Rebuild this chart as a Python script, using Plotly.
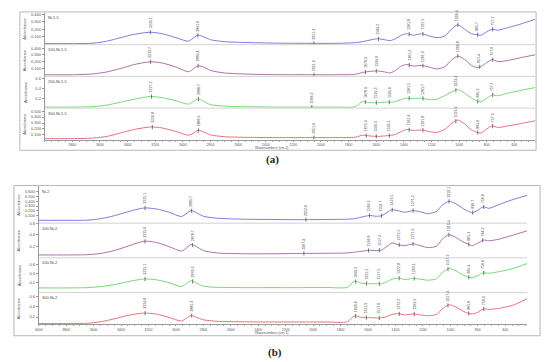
import numpy as np
import plotly.graph_objects as go

# ---------------- data ----------------
WAVENUMBER = [4000, 3800, 3650, 3550, 3450, 3350, 3235, 3150, 3050, 2960, 2920, 2890, 2850, 2800,
              2700, 2500, 2300, 2100, 1900, 1750, 1700, 1650, 1590, 1540, 1500, 1460, 1425, 1380,
              1330, 1270, 1220, 1160, 1100, 1060, 1010, 960, 910, 870, 840, 800, 760, 720, 650, 550, 440]

A_NI15 = [0.007, 0.007, 0.013, 0.040, 0.087, 0.133, 0.160, 0.140, 0.087, 0.040, 0.087, 0.120, 0.100, 0.060,
          0.033, 0.020, 0.013, 0.011, 0.011, 0.020, 0.033, 0.053, 0.073, 0.060, 0.047, 0.073, 0.113, 0.140,
          0.120, 0.140, 0.113, 0.087, 0.113, 0.193, 0.260, 0.200, 0.140, 0.127, 0.120, 0.167, 0.200, 0.187,
          0.220, 0.273, 0.340]
A_100_NI15 = [0.003, 0.003, 0.015, 0.045, 0.097, 0.157, 0.197, 0.179, 0.119, 0.048, 0.097, 0.137, 0.119, 0.067,
              0.030, 0.010, 0.004, 0.003, 0.003, 0.010, 0.037, 0.052, 0.060, 0.045, 0.030, 0.067, 0.127, 0.157,
              0.134, 0.142, 0.119, 0.090, 0.127, 0.216, 0.284, 0.231, 0.142, 0.112, 0.127, 0.187, 0.231, 0.201,
              0.216, 0.261, 0.306]
A_200_NI15 = [0.039, 0.039, 0.049, 0.078, 0.136, 0.194, 0.247, 0.223, 0.165, 0.097, 0.155, 0.200, 0.155, 0.087,
              0.058, 0.045, 0.039, 0.039, 0.039, 0.049, 0.146, 0.126, 0.126, 0.136, 0.136, 0.146, 0.184, 0.214,
              0.204, 0.214, 0.184, 0.194, 0.272, 0.330, 0.383, 0.311, 0.214, 0.155, 0.146, 0.214, 0.278, 0.262,
              0.311, 0.369, 0.427]
A_300_NI15 = [0.038, 0.038, 0.047, 0.075, 0.133, 0.192, 0.233, 0.217, 0.158, 0.095, 0.133, 0.178, 0.150, 0.100,
              0.070, 0.058, 0.055, 0.055, 0.055, 0.062, 0.095, 0.083, 0.075, 0.083, 0.092, 0.108, 0.150, 0.192,
              0.175, 0.183, 0.158, 0.142, 0.200, 0.283, 0.350, 0.283, 0.183, 0.142, 0.133, 0.200, 0.250, 0.225,
              0.250, 0.292, 0.342]

B_NI2 = [0.000, 0.000, 0.002, 0.033, 0.096, 0.179, 0.258, 0.242, 0.169, 0.079, 0.148, 0.204, 0.158, 0.085,
         0.044, 0.023, 0.017, 0.013, 0.017, 0.023, 0.033, 0.065, 0.100, 0.085, 0.096, 0.169, 0.221, 0.200,
         0.169, 0.204, 0.179, 0.138, 0.190, 0.315, 0.398, 0.346, 0.252, 0.190, 0.158, 0.210, 0.283, 0.252,
         0.325, 0.429, 0.523]
B_100_NI2 = [0.058, 0.058, 0.062, 0.083, 0.133, 0.208, 0.292, 0.275, 0.200, 0.125, 0.183, 0.237, 0.200, 0.133,
             0.092, 0.078, 0.078, 0.083, 0.087, 0.092, 0.105, 0.120, 0.137, 0.133, 0.142, 0.208, 0.263, 0.233,
             0.217, 0.247, 0.217, 0.183, 0.208, 0.325, 0.403, 0.358, 0.283, 0.242, 0.217, 0.258, 0.313, 0.300,
             0.325, 0.392, 0.470]
B_200_NI2 = [0.071, 0.071, 0.078, 0.100, 0.144, 0.211, 0.271, 0.256, 0.189, 0.100, 0.178, 0.233, 0.178, 0.111,
             0.084, 0.078, 0.078, 0.078, 0.082, 0.084, 0.222, 0.178, 0.167, 0.162, 0.167, 0.211, 0.267, 0.293,
             0.260, 0.284, 0.267, 0.244, 0.278, 0.411, 0.507, 0.456, 0.367, 0.311, 0.300, 0.344, 0.411, 0.400,
             0.433, 0.500, 0.618]
B_300_NI2 = [0.072, 0.072, 0.078, 0.107, 0.165, 0.233, 0.278, 0.262, 0.194, 0.122, 0.184, 0.233, 0.194, 0.146,
             0.117, 0.107, 0.103, 0.103, 0.103, 0.107, 0.223, 0.194, 0.188, 0.184, 0.184, 0.214, 0.252, 0.266,
             0.243, 0.262, 0.243, 0.227, 0.252, 0.359, 0.441, 0.398, 0.320, 0.272, 0.262, 0.291, 0.359, 0.350,
             0.369, 0.427, 0.557]

SAMPLE_NAMES_A = ["Ni-1.5", "100-Ni-1.5", "200-Ni-1.5", "300-Ni-1.5"]
SAMPLE_NAMES_B = ["Ni-2", "100-Ni-2", "200-Ni-2", "300-Ni-2"]

PEAKS_A_NI15 = [3235.1, 2891.6, 2051.3, 1584.2, 1361.8, 1261.5, 1009.4, 865.7, 757.2]
PEAKS_A_100_NI15 = [3233.7, 2889.4, 2051.0, 1678.3, 1599.6, 1361.2, 1261.9, 1009.8, 851.4, 757.6]
PEAKS_A_200_NI15 = [3227.2, 2886.7, 2066.2, 1678.9, 1599.3, 1505.6, 1361.5, 1261.7, 1023.4, 865.3, 757.1]
PEAKS_A_300_NI15 = [3220.8, 2886.9, 2051.6, 1672.4, 1599.9, 1505.1, 1361.6, 1261.8, 1023.9, 865.6, 757.5]

PEAKS_B_NI2 = [3225.1, 2885.7, 2052.6, 1589.3, 1502.7, 1423.5, 1271.2, 1010.1, 836.7, 756.8]
PEAKS_B_100_NI2 = [3225.6, 2878.7, 2067.4, 1596.8, 1517.3, 1372.5, 1271.9, 1010.4, 865.3, 764.2]
PEAKS_B_200_NI2 = [3225.1, 2878.3, 1690.3, 1611.2, 1517.5, 1372.8, 1263.1, 1017.2, 865.4, 756.6]
PEAKS_B_300_NI2 = [3224.8, 2885.3, 1690.6, 1611.9, 1517.6, 1372.2, 1263.5, 1017.4, 865.8, 756.3]

X_TICKS_A = [3800, 3600, 3400, 3200, 3000, 2800, 2600, 2400, 2200, 2000, 1800, 1600, 1400, 1200, 1000, 800, 600]
X_TICKS_B = [4000, 3800, 3600, 3400, 3200, 3000, 2800, 2600, 2400, 2200, 2000, 1800, 1600, 1400, 1200, 1000, 800, 600]

# ---------------- layout helpers ----------------
W, H = 550, 362
def px(x):
    return x / W
def py(y):
    return 1 - y / H

COLORS = ["rgb(125,125,225)", "rgb(170,115,170)", "rgb(120,215,120)", "rgb(230,115,125)"]
SMALL = "Liberation Sans"

panels = [
    dict(series=[A_NI15, A_100_NI15, A_200_NI15, A_300_NI15],
         peaks=[PEAKS_A_NI15, PEAKS_A_100_NI15, PEAKS_A_200_NI15, PEAKS_A_300_NI15],
         names=SAMPLE_NAMES_A,
         rows=[(10, 42), (42, 74), (74, 106), (106, 138)],
         yranges=[[-0.007, 0.42], [-0.022, 0.455], [0.019, 0.641], [0.017, 0.55]],
         yticks=[[0.1, 0.2, 0.3, 0.4], [0.1, 0.2, 0.3, 0.4], [0.2, 0.4, 0.6], [0.1, 0.2, 0.3, 0.4, 0.5]],
         ytext=[["0.100", "0.200", "0.300", "0.400"], ["0.100", "0.200", "0.300", "0.400"],
                ["0.2", "0.4", "0.6"], ["0.100", "0.200", "0.300", "0.400", "0.500"]],
         xdom=(41, 535), xrange=[4000, 450], xticks=X_TICKS_A,
         frame=(16, 9, 536, 148.5), ytitle_x=21, xtitle_y=146.2, label="(a)", label_pos=(270, 158)),
    dict(series=[B_NI2, B_100_NI2, B_200_NI2, B_300_NI2],
         peaks=[PEAKS_B_NI2, PEAKS_B_100_NI2, PEAKS_B_200_NI2, PEAKS_B_300_NI2],
         names=SAMPLE_NAMES_B,
         rows=[(185, 222), (222, 257), (257, 292), (292, 324)],
         yranges=[[-0.06, 0.71], [0.008, 0.601], [-0.033, 0.744], [0.058, 0.68]],
         yticks=[[0.1, 0.2, 0.3, 0.4, 0.5, 0.6], [0.2, 0.4, 0.6], [0.2, 0.4, 0.6], [0.2, 0.4, 0.6]],
         ytext=[["0.100", "0.200", "0.300", "0.400", "0.500", "0.600"], ["0.2", "0.4", "0.6"],
                ["0.2", "0.4", "0.6"], ["0.2", "0.4", "0.6"]],
         xdom=(35, 527), xrange=[4000, 440], xticks=X_TICKS_B,
         frame=(10, 184, 540, 335.5), ytitle_x=15, xtitle_y=332.6, label="(b)", label_pos=(273, 352)),
]

fig = go.Figure()
layout = dict(width=W, height=H, margin=dict(l=0, r=0, t=0, b=0), showlegend=False,
              paper_bgcolor="white", plot_bgcolor="white")
annotations = []
shapes = []

wn_arr = np.array(WAVENUMBER, dtype=float)
yi = 0
for pi, p in enumerate(panels):
    xname = "x" if pi == 0 else "x2"
    xkey = "xaxis" if pi == 0 else "xaxis2"
    bottom_y = None
    for si in range(4):
        yi += 1
        yname = "y" if yi == 1 else f"y{yi}"
        ykey = "yaxis" if yi == 1 else f"yaxis{yi}"
        top, bot = p["rows"][si]
        vals = p["series"][si]
        fig.add_trace(go.Scatter(x=WAVENUMBER, y=vals, mode="lines", xaxis=xname, yaxis=yname,
                                 line=dict(color=COLORS[si], width=1, shape="spline", smoothing=0.7),
                                 hoverinfo="skip"))
        pk = p["peaks"][si]
        pk_y = [float(np.interp(v, wn_arr[::-1], np.array(vals)[::-1])) for v in pk]
        fig.add_trace(go.Scatter(x=pk, y=pk_y, mode="markers", xaxis=xname, yaxis=yname,
                                 marker=dict(symbol="line-ns-open", size=3, color="#555",
                                             line=dict(width=0.8, color="#555")),
                                 hoverinfo="skip"))
        for v, yv in zip(pk, pk_y):
            annotations.append(dict(x=v, y=yv, xref=xname, yref=yname, text=f"{v:.1f}",
                                    textangle=-90, showarrow=False, xanchor="center", yanchor="bottom",
                                    yshift=2, font=dict(family=SMALL, size=3.6, color="#444")))
        layout[ykey] = dict(domain=[py(bot), py(top)], anchor=xname, range=p["yranges"][si],
                            tickvals=p["yticks"][si], ticktext=p["ytext"][si],
                            tickfont=dict(family=SMALL, size=4, color="#555"),
                            ticks="outside", ticklen=2, tickcolor="#999", showline=True,
                            linecolor="#9a9a9a", linewidth=1, showgrid=False, zeroline=False)
        bottom_y = yname
        annotations.append(dict(x=px(p["xdom"][0] + 1), y=py(top + 0.5), xref="paper", yref="paper",
                                text=p["names"][si], showarrow=False, xanchor="left", yanchor="top",
                                font=dict(family=SMALL, size=4, color="#444")))
        annotations.append(dict(x=px(p["ytitle_x"]), y=py((top + bot) / 2), xref="paper", yref="paper",
                                text="Absorbance", textangle=-90, showarrow=False,
                                xanchor="center", yanchor="middle",
                                font=dict(family=SMALL, size=4, color="#555")))
        if si > 0:
            shapes.append(dict(type="line", xref="paper", yref="paper", x0=px(p["xdom"][0]),
                               x1=px(p["xdom"][1]), y0=py(top), y1=py(top),
                               line=dict(color="#d2d2d2", width=1)))
    layout[xkey] = dict(domain=[px(p["xdom"][0]), px(p["xdom"][1])], anchor=bottom_y,
                        range=p["xrange"], tickvals=p["xticks"], ticktext=[str(t) for t in p["xticks"]],
                        tickfont=dict(family=SMALL, size=3.5, color="#555"), ticks="outside",
                        ticklen=1, tickcolor="#999", showline=True, linecolor="#9a9a9a", linewidth=1,
                        showgrid=False, zeroline=False,
                        minor=dict(ticks="outside", ticklen=1, dtick=50, tickcolor="#aaa"))
    fx0, fy0, fx1, fy1 = p["frame"]
    shapes.append(dict(type="rect", xref="paper", yref="paper", x0=px(fx0), x1=px(fx1),
                       y0=py(fy1), y1=py(fy0), line=dict(color="#b8b8b8", width=1)))
    annotations.append(dict(x=px(270), y=py(p["xtitle_y"]), xref="paper", yref="paper",
                            text="Wavenumbers (cm-1)", showarrow=False, xanchor="center", yanchor="middle",
                            borderpad=0, font=dict(family=SMALL, size=3.5, color="#555")))
    lx, ly = p["label_pos"]
    annotations.append(dict(x=px(lx), y=py(ly), xref="paper", yref="paper", text=f"<b>{p['label']}</b>",
                            showarrow=False, xanchor="center", yanchor="middle",
                            font=dict(family="Liberation Serif", size=11, color="#222")))

layout["annotations"] = annotations
layout["shapes"] = shapes
fig.update_layout(**layout)
fig.write_html("out.html", config={"displayModeBar": False},
               post_script="document.body.style.margin='0';document.body.style.overflow='hidden';")
